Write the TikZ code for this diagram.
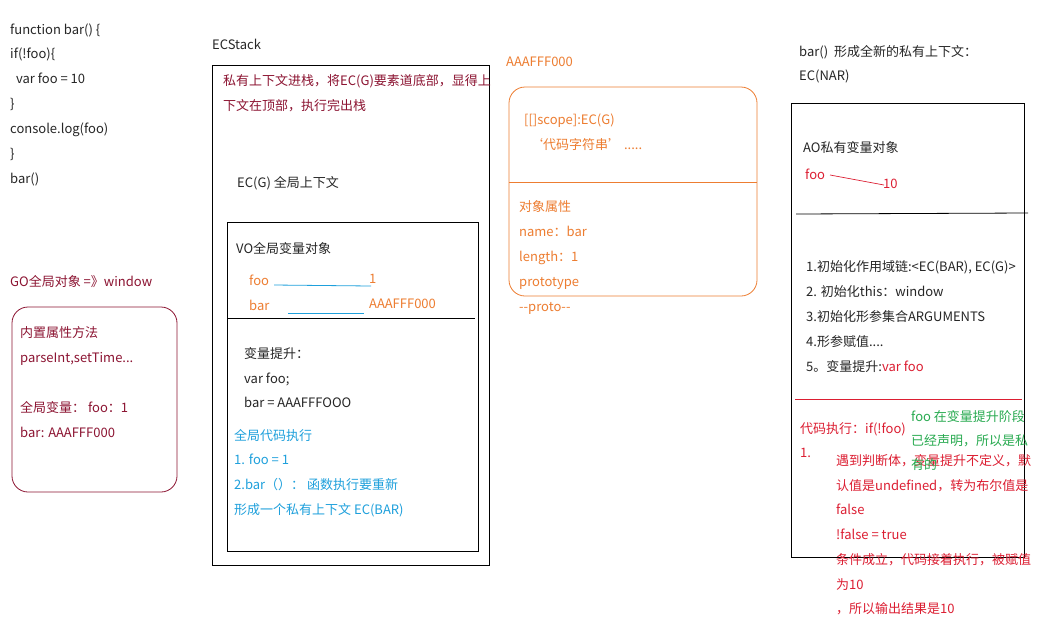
\documentclass[tikz,border=0pt]{standalone}
\usepackage{fontspec}
\setmainfont{Noto Sans CJK SC}
\definecolor{cDR}{RGB}{140,20,50}
\definecolor{cOR}{RGB}{237,125,49}
\definecolor{cBL}{RGB}{30,160,220}
\definecolor{cGR}{RGB}{40,170,80}
\definecolor{cRD}{RGB}{220,30,50}
\newcommand{\fsz}{\fontsize{13}{15}\selectfont}
\tikzset{
  tx/.style={anchor=west, inner sep=0pt, text height=10pt, text depth=3pt, font=\fsz},
  dr/.style={tx, text=cDR},
  og/.style={tx, text=cOR},
  bl/.style={tx, text=cBL},
  gr/.style={tx, text=cGR},
  rd/.style={tx, text=cRD},
  bk/.style={tx, text=black!85},
  frame/.style={draw=black, line width=0.8pt},
}
\begin{document}
\begin{tikzpicture}[x=1pt, y=-1pt]
\useasboundingbox[fill=white] (0,0) rectangle (1059,622);
% code
\node[bk] (c1) at (10,31) {function bar() \{};
\node[bk] (c2) at (10,55) {if(!foo)\{};
\node[bk] (c3) at (10,80) {\ \ var foo = 10};
\node[bk] (c4) at (10,105) {\}};
\node[bk] (c5) at (10,130) {console.log(foo)};
\node[bk] (c6) at (10,155) {\}};
\node[bk] (c7) at (10,180) {bar()};
% GO
\node[dr] (go) at (10,283) {GO全局对象 =》window};
\draw[cDR, line width=0.8pt, rounded corners=16pt] (12,307) rectangle (177,492);
\node[dr] (g1) at (20,334) {内置属性方法};
\node[dr] (g2) at (20,359) {parseInt,setTime...};
\node[dr] (g3) at (20,409) {全局变量： foo：1};
\node[dr] (g4) at (20,434) {bar: AAAFFF000};
% ECStack
\node[bk] (ecs) at (212,46) {ECStack};
\draw[frame] (212,65) rectangle (489,565);
\node[dr] (e1) at (223,82) {私有上下文进栈，将EC(G)要素道底部，显得上};
\node[dr] (e2) at (223,107) {下文在顶部，执行完出栈};
\node[bk] (ecg) at (237,184) {EC(G) 全局上下文};
\draw[frame] (227,222) rectangle (478,551);
\node[bk] (vo) at (236,250) {VO全局变量对象};
\node[og] (vfoo) at (249,282) {foo};
\node[og] (v1) at (369,280) {1};
\coordinate (fa) at (274,285);
\coordinate (fb) at (371,286);
\draw[cBL, line width=0.8pt] (fa) -- (fb);
\node[og] (vbar) at (249,307) {bar};
\node[og] (vaaa) at (369,305) {AAAFFF000};
\coordinate (ba) at (288,313);
\coordinate (bb) at (364,313);
\draw[cBL, line width=0.8pt] (ba) -- (bb);
\coordinate (d1a) at (227,318);
\coordinate (d1b) at (475,318);
\draw[black, line width=0.8pt] (d1a) -- (d1b);
\node[bk] (h1) at (244,355) {变量提升：};
\node[bk] (h2) at (244,380) {var foo;};
\node[bk] (h3) at (244,404) {bar = AAAFFFOOO};
\node[bl] (x1) at (234,437) {全局代码执行};
\node[bl] (x2) at (234,461) {1. foo = 1};
\node[bl] (x3) at (234,486) {2.bar（）：\ 函数执行要重新};
\node[bl] (x4) at (234,511) {形成一个私有上下文 EC(BAR)};
% function object
\node[og] (fo) at (506,63) {AAAFFF000};
\draw[cOR, line width=0.8pt, rounded corners=16pt] (509,87) rectangle (757,296);
\coordinate (d2a) at (509,182);
\coordinate (d2b) at (757,182);
\draw[cOR, line width=0.8pt] (d2a) -- (d2b);
\node[og] (o1) at (524,121) {[[]scope]:EC(G)};
\node[og] (o2) at (530,146) {‘代码字符串’\ .....};
\node[og] (o3) at (519,208) {对象属性};
\node[og] (o4) at (519,233) {name：bar};
\node[og] (o5) at (519,258) {length：1};
\node[og] (o6) at (519,283) {prototype};
\node[og] (o7) at (519,308) {{-}{-}proto{-}{-}};
% EC(BAR)
\node[bk] (r0) at (799,53) {bar()\ \ 形成全新的私有上下文：};
\node[bk] (r00) at (799,77) {EC(NAR)};
\draw[frame] (791,103) rectangle (1024,557);
\node[bk] (ao) at (803,149) {AO私有变量对象};
\node[rd] (afoo) at (805,176) {foo};
\node[rd] (a10) at (883,185) {10};
\coordinate (la) at (830,175);
\coordinate (lb) at (884,185);
\draw[cRD, line width=0.7pt] (la) -- (lb);
\coordinate (d3a) at (796,214);
\coordinate (d3b) at (1028,213);
\draw[black, line width=0.8pt] (d3a) -- (d3b);
\node[bk] (s1) at (806,268) {1.初始化作用域链:<EC(BAR), EC(G)>};
\node[bk] (s2) at (806,293) {2. 初始化this：window};
\node[bk] (s3) at (806,318) {3.初始化形参集合ARGUMENTS};
\node[bk] (s4) at (806,343) {4.形参赋值....};
\node[bk] (s5) at (806,368) {5。变量提升:\textcolor{cRD}{var foo}};
\coordinate (d4a) at (795,399);
\coordinate (d4b) at (1022,399);
\draw[cRD, line width=0.8pt] (d4a) -- (d4b);
\node[rd] (k1) at (800,430) {代码执行：if(!foo)};
\node[rd] (k2) at (800,454) {1.};
\node[rd] (k3) at (836,462) {遇到判断体，变量提升不定义，默};
\node[rd] (k4) at (836,487) {认值是undefined，转为布尔值是};
\node[rd] (k5) at (836,511) {false};
\node[rd] (k6) at (836,536) {!false = true};
\node[rd] (k7) at (836,561) {条件成立，代码接着执行，被赋值};
\node[rd] (k8) at (836,586) {为10};
\node[rd] (k9) at (836,610) {，所以输出结果是10};
\node[gr] (n1) at (911,418) {foo 在变量提升阶段};
\node[gr] (n2) at (911,442) {已经声明，所以是私};
\node[gr] (n3) at (911,466) {有的};
\end{tikzpicture}
\end{document}
